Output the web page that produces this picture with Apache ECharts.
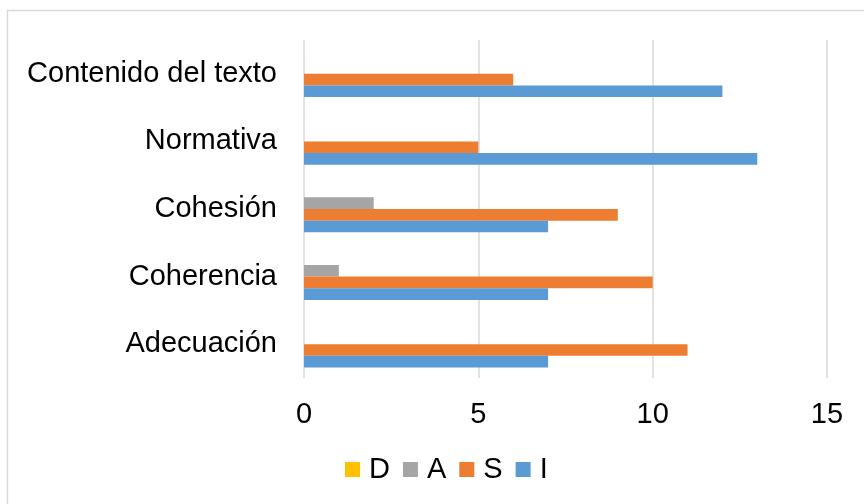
<!DOCTYPE html>
<html>
<head>
<meta charset="utf-8">
<script src="https://cdn.jsdelivr.net/npm/echarts@6/dist/echarts.min.js"></script>
<style>
  html, body { margin: 0; padding: 0; background: #fff; }
  #chart { width: 864px; height: 504px; }
</style>
</head>
<body>
<div id="chart"></div>
<script>
// Categories listed bottom to top on the vertical axis
const categories = ['Adecuación', 'Coherencia', 'Cohesión', 'Normativa', 'Contenido del texto'];

// Counts per criterion for each level
const valuesD = [0, 0, 0, 0, 0];
const valuesA = [0, 1, 2, 0, 0];
const valuesS = [11, 10, 9, 5, 6];
const valuesI = [7, 7, 7, 13, 12];

const seriesNames = ['D', 'A', 'S', 'I'];
const seriesColors = ['#FFC000', '#A5A5A5', '#ED7D31', '#5B9BD5'];
const seriesValues = [valuesD, valuesA, valuesS, valuesI];

const xTicks = { min: 0, max: 15, interval: 5 };

const font = '"Liberation Sans", Arial, sans-serif';
const chart = echarts.init(document.getElementById('chart'), null, { renderer: 'canvas' });

chart.setOption({
  animation: false,
  backgroundColor: '#fff',
  graphic: [{
    type: 'rect',
    shape: { x: 7.5, y: 10.5, width: 900, height: 600 },
    style: { fill: 'none', stroke: '#d9d9d9', lineWidth: 1.5 },
    silent: true
  }],
  grid: { left: 304, right: 37, top: 40, bottom: 126, containLabel: false },
  legend: {
    data: seriesNames,
    left: 345,
    top: 455,
    itemWidth: 15,
    itemHeight: 15,
    itemGap: 13,
    icon: 'rect',
    padding: 0,
    textStyle: { fontFamily: font, fontSize: 29, color: '#000', padding: [0, 0, 0, 4] }
  },
  xAxis: {
    type: 'value',
    min: xTicks.min,
    max: xTicks.max,
    interval: xTicks.interval,
    axisLine: { show: false },
    axisTick: { show: false },
    splitLine: { lineStyle: { color: '#d9d9d9', width: 1.5 } },
    axisLabel: { fontFamily: font, fontSize: 29, color: '#000', margin: 22 }
  },
  yAxis: {
    type: 'category',
    data: categories,
    axisLine: { show: false },
    axisTick: { show: false },
    axisLabel: { fontFamily: font, fontSize: 29, color: '#000', margin: 27, padding: [8, 0, 0, 0] }
  },
  series: seriesNames.map((name, i) => ({
    name: name,
    type: 'bar',
    data: seriesValues[i],
    barGap: '0%',
    barCategoryGap: '31%',
    itemStyle: { color: seriesColors[i] }
  }))
});
</script>
</body>
</html>
